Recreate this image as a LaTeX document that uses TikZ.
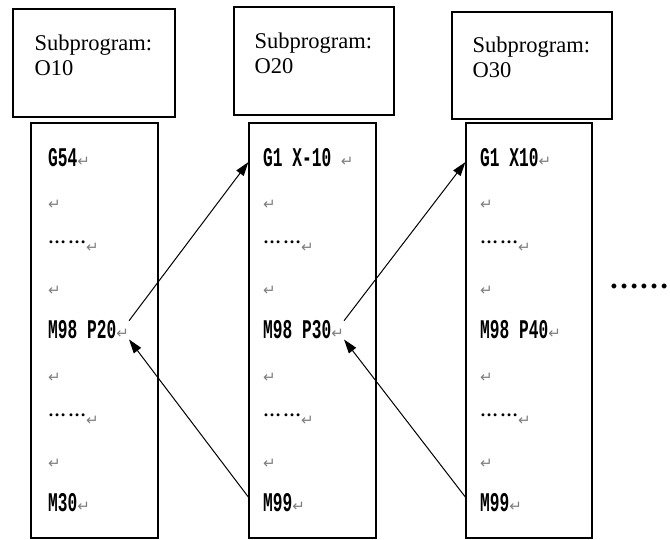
\documentclass[tikz,border=0pt]{standalone}
\usepackage{fontspec}
\setmainfont{Liberation Serif}
\newfontfamily\codefont[FakeStretch=0.6]{Liberation Mono}
\newfontfamily\symfont{DejaVu Sans}
\usetikzlibrary{arrows.meta}

\newcommand{\retsym}{{\symfont\mdseries\fontsize{15}{15}\selectfont\textcolor{gray}{↵}}}
\newcommand{\dotsym}{\raisebox{9pt}{\rmfamily\bfseries\fontsize{18}{18}\selectfont …\kern2pt…}}

\begin{document}
\begin{tikzpicture}[x=1pt,y=-1pt,
  hdr/.style={draw, line width=1.2pt, minimum width=160pt, minimum height=108pt, inner sep=0pt},
  hdrtext/.style={anchor=north west, inner sep=0pt, align=left, font=\fontsize{22.5}{25}\selectfont},
  codebox/.style={draw, line width=1.2pt, minimum width=127pt, minimum height=415pt, inner sep=0pt},
  codeline/.style={anchor=base west, inner sep=0pt, font=\fontsize{27}{27}\codefont\bfseries},
  call/.style={-{Triangle[length=14pt,width=9pt]}, line width=1pt}]
\useasboundingbox (0,0) rectangle (670,540);

% Headers
\node[hdr, minimum width=162pt] (h1) at (94,63) {};
\node[hdr] (h2) at (314,61) {};
\node[hdr, minimum height=107pt] (h3) at (532,65.5) {};
\node[hdrtext] (t1) at ([shift={(22,26)}]h1.north west) {Subprogram:\\O10};
\node[hdrtext] (t2) at ([shift={(21,26)}]h2.north west) {Subprogram:\\O20};
\node[hdrtext] (t3) at ([shift={(21,25)}]h3.north west) {Subprogram:\\O30};

% Program boxes
\node[codebox] (p1) at (94.5,330.5) {};
\node[codebox] (p2) at (312.5,330.5) {};
\node[codebox, minimum width=126pt] (p3) at (529,330.5) {};

% O10
\node[codeline] (a1) at (48,167) {G54\retsym};
\node[codeline] (a2) at (48,210) {\retsym};
\node[codeline] (a3) at (48,253) {\dotsym\retsym};
\node[codeline] (a4) at (48,296) {\retsym};
\node[codeline] (a5) at (48,339) {M98 P20\retsym};
\node[codeline] (a6) at (48,382) {\retsym};
\node[codeline] (a7) at (48,425) {\dotsym\retsym};
\node[codeline] (a8) at (48,468) {\retsym};
\node[codeline] (a9) at (48,511) {M30\retsym};

% O20
\node[codeline] (b1) at (263,167) {G1 X-10 \retsym};
\node[codeline] (b2) at (263,210) {\retsym};
\node[codeline] (b3) at (263,253) {\dotsym\retsym};
\node[codeline] (b4) at (263,296) {\retsym};
\node[codeline] (b5) at (263,339) {M98 P30\retsym};
\node[codeline] (b6) at (263,382) {\retsym};
\node[codeline] (b7) at (263,425) {\dotsym\retsym};
\node[codeline] (b8) at (263,468) {\retsym};
\node[codeline] (b9) at (263,511) {M99\retsym};

% O30
\node[codeline] (c1) at (480,167) {G1 X10\retsym};
\node[codeline] (c2) at (480,210) {\retsym};
\node[codeline] (c3) at (480,253) {\dotsym\retsym};
\node[codeline] (c4) at (480,296) {\retsym};
\node[codeline] (c5) at (480,339) {M98 P40\retsym};
\node[codeline] (c6) at (480,382) {\retsym};
\node[codeline] (c7) at (480,425) {\dotsym\retsym};
\node[codeline] (c8) at (480,468) {\retsym};
\node[codeline] (c9) at (480,511) {M99\retsym};

% More subprograms
\node[anchor=base west, inner sep=0pt, font=\bfseries\fontsize{30}{30}\selectfont] (more) at (609,289) {……};

% Calls and returns
\draw[call] (a5.north east) -- ([yshift=-4pt]p2.west |- b1);
\draw[call] ([yshift=5pt]p2.west |- b9) -- (a5.south east);
\draw[call] (b5.north east) -- ([yshift=-4pt]p3.west |- c1);
\draw[call] ([yshift=5pt]p3.west |- c9) -- (b5.south east);
\end{tikzpicture}
\end{document}
